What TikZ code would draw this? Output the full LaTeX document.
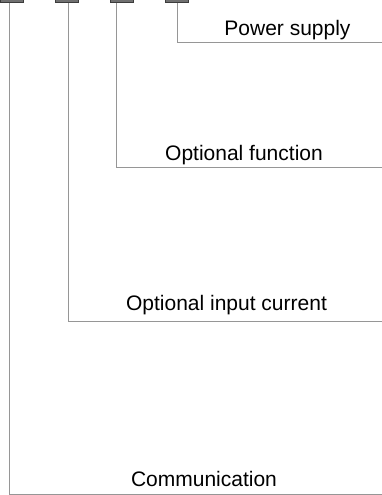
\documentclass[tikz,border=0pt]{standalone}
\usepackage{fontspec}
\setmainfont{Liberation Sans}
\definecolor{pinfill}{RGB}{112,112,112}
\definecolor{pindark}{RGB}{60,60,60}
\definecolor{leadgray}{RGB}{150,150,150}
\begin{document}
\begin{tikzpicture}[x=1pt,y=-1pt,
	pin/.style={draw=pindark, fill=pinfill, line width=1pt, minimum width=22.5pt, minimum height=12pt, inner sep=0pt, anchor=south},
	lead/.style={draw=leadgray, line width=1pt},
	tag/.style={anchor=base, font=\fontsize{21}{25}\selectfont}]
			\useasboundingbox (0,0) rectangle (382,495);
			\node[pin] (p1) at (11.75,3) {};
			\node[pin] (p2) at (66.75,3) {};
			\node[pin] (p3) at (121.75,3) {};
			\node[pin] (p4) at (176.75,3) {};
			\coordinate (e4) at (382,43);
			\coordinate (e3) at (382,167.5);
			\coordinate (e2) at (382,321);
			\coordinate (e1) at (382,494);
			\draw[lead] ([xshift=0.25pt]p4.south) |- (e4);
			\draw[lead] ([xshift=-5.75pt]p3.south) |- (e3);
			\draw[lead] ([xshift=1.25pt]p2.south) |- (e2);
			\draw[lead] ([xshift=-2.75pt]p1.south) |- (e1);
			\node[tag] (t4) at (287.5,36) {Power supply};
			\node[tag] (t3) at (244,160) {Optional function};
			\node[tag] (t2) at (226.5,310.5) {Optional input current};
			\node[tag] (t1) at (204,486) {Communication};
			\end{tikzpicture}
\end{document}
